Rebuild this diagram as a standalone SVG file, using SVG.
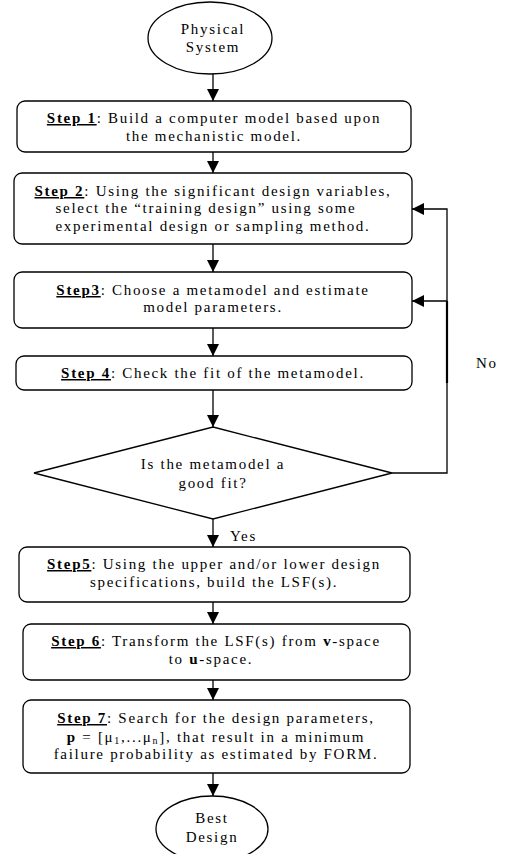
<svg xmlns="http://www.w3.org/2000/svg" width="507" height="854" viewBox="0 0 507 854">
<style>
  .box{fill:#fff;stroke:#000;stroke-width:1.3}
  .ln{fill:none;stroke:#000;stroke-width:1.3}
  text{font-family:"Liberation Serif","Times New Roman",serif;font-size:15px;fill:#000;letter-spacing:1.7px}
  .c{text-anchor:middle}
  .b{font-weight:bold}
  .s{font-weight:bold;text-decoration:underline}
</style>
<defs>
  <marker id="ah" markerUnits="userSpaceOnUse" markerWidth="13" markerHeight="12" refX="12" refY="6" orient="auto">
    <path d="M0,0 L12,6 L0,12 z" fill="#000"/>
  </marker>
</defs>
<rect width="507" height="854" fill="#fff"/>
<g id="connectors">
  <line class="ln" x1="213" y1="74" x2="213" y2="101" marker-end="url(#ah)"/>
  <line class="ln" x1="213" y1="152" x2="213" y2="173" marker-end="url(#ah)"/>
  <line class="ln" x1="213" y1="244" x2="213" y2="272" marker-end="url(#ah)"/>
  <line class="ln" x1="213" y1="328" x2="213" y2="356" marker-end="url(#ah)"/>
  <line class="ln" x1="213" y1="390" x2="213" y2="427" marker-end="url(#ah)"/>
  <line class="ln" x1="213" y1="519" x2="213" y2="547" marker-end="url(#ah)"/>
  <line class="ln" x1="213" y1="602" x2="213" y2="624" marker-end="url(#ah)"/>
  <line class="ln" x1="213" y1="680" x2="213" y2="700" marker-end="url(#ah)"/>
  <line class="ln" x1="213" y1="773" x2="213" y2="796" marker-end="url(#ah)"/>
  <polyline class="ln" points="392,473 447,473 447,209 412,209" marker-end="url(#ah)"/>
  <line class="ln" x1="447" y1="301" x2="412" y2="301" marker-end="url(#ah)"/>
  <line x1="447" y1="301" x2="447" y2="383" stroke="#000" stroke-width="2.2"/>
  <text x="476" y="368">No</text>
  <text x="230" y="541">Yes</text>
</g>
<g id="start">
  <ellipse class="box" cx="210" cy="38" rx="62" ry="36"/>
  <text class="c" x="213" y="34">Physical</text>
  <text class="c" x="213" y="52">System</text>
</g>
<g id="step1">
  <rect class="box" x="17" y="101" width="394" height="51" rx="8"/>
  <text class="c" x="214" y="123"><tspan class="s">Step 1</tspan>: Build a computer model based upon</text>
  <text class="c" x="214" y="141">the mechanistic model.</text>
</g>
<g id="step2">
  <rect class="box" x="14" y="173" width="398" height="71" rx="8"/>
  <text class="c" x="213" y="196"><tspan class="s">Step 2</tspan>: Using the significant design variables,</text>
  <text class="c" x="206" y="213">select the “training design” using some</text>
  <text class="c" x="213" y="231">experimental design or sampling method.</text>
</g>
<g id="step3">
  <rect class="box" x="14" y="272" width="398" height="56" rx="8"/>
  <text class="c" x="213" y="295"><tspan class="s">Step3</tspan>: Choose a metamodel and estimate</text>
  <text class="c" x="213" y="312">model parameters.</text>
</g>
<g id="step4">
  <rect class="box" x="16" y="356" width="396" height="34" rx="8"/>
  <text class="c" x="213" y="378"><tspan class="s">Step 4</tspan>: Check the fit of the metamodel.</text>
</g>
<g id="decision">
  <polygon class="box" points="213,427 392,473 213,519 34,473"/>
  <text class="c" x="213" y="469">Is the metamodel a</text>
  <text class="c" x="213" y="488">good fit?</text>
</g>
<g id="step5">
  <rect class="box" x="19" y="547" width="391" height="55" rx="8"/>
  <text class="c" x="214" y="569"><tspan class="s">Step5</tspan>: Using the upper and/or lower design</text>
  <text class="c" x="214" y="587">specifications, build the LSF(s).</text>
</g>
<g id="step6">
  <rect class="box" x="23" y="624" width="387" height="56" rx="8"/>
  <text class="c" x="216" y="646"><tspan class="s">Step 6</tspan>: Transform the LSF(s) from <tspan class="b">v</tspan>-space</text>
  <text class="c" x="211" y="664">to <tspan class="b">u</tspan>-space.</text>
</g>
<g id="step7">
  <rect class="box" x="23" y="700" width="387" height="73" rx="8"/>
  <text class="c" x="216" y="723"><tspan class="s">Step 7</tspan>: Search for the design parameters,</text>
  <text class="c" x="216" y="742"><tspan class="b">p</tspan> = [μ<tspan font-size="10" dy="2">1</tspan><tspan dy="-2">,...μ</tspan><tspan font-size="10" dy="2">n</tspan><tspan dy="-2">], that result in a minimum</tspan></text>
  <text class="c" x="216" y="759">failure probability as estimated by FORM.</text>
</g>
<g id="end">
  <ellipse class="box" cx="212" cy="829" rx="56" ry="33"/>
  <text class="c" x="212" y="823">Best</text>
  <text class="c" x="212" y="842">Design</text>
</g>
</svg>
